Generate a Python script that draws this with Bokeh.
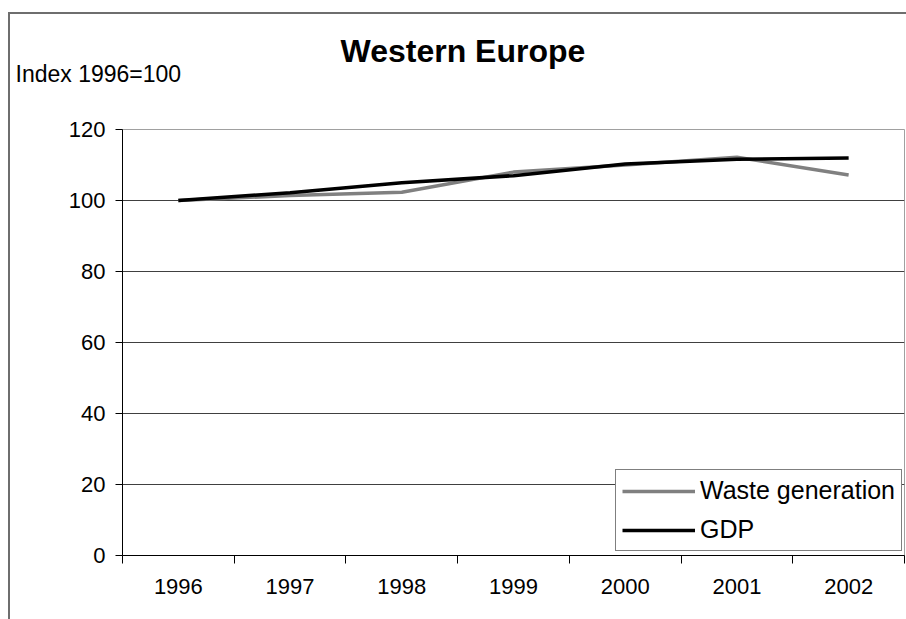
from bokeh.plotting import figure
from bokeh.models import (FixedTicker, Legend, LegendItem, Title, Range1d,
                          InlineStyleSheet)
from bokeh.embed import file_html
from bokeh.resources import INLINE

# ---- data ----
years = ["1996", "1997", "1998", "1999", "2000", "2001", "2002"]
waste = [100, 101.4, 102.3, 108.0, 110.0, 112.2, 107.2]
gdp = [100, 102.2, 105.0, 107.0, 110.3, 111.6, 112.0]
y_ticks = [0, 20, 40, 60, 80, 100, 120]

title_text = "Western Europe"
y_title = "Index 1996=100"

# ---- layout (canvas pixels) ----
FR_L, FR_R, FR_T, FR_B = 122, 904, 129, 555
W, H = 906, 619
n = len(years)

xs = [i + 0.5 for i in range(n)]

p = figure(width=W, height=H, output_backend="svg", toolbar_location=None,
           x_range=Range1d(0, n), y_range=Range1d(y_ticks[0], y_ticks[-1]),
           min_border_left=FR_L, min_border_right=W - FR_R,
           min_border_top=FR_T, min_border_bottom=H - FR_B,
           background_fill_color="white", border_fill_color="white")

p.outline_line_color = "#a0a0a0"

r_waste = p.line(xs, waste, line_color="#808080", line_width=3.5)
r_gdp = p.line(xs, gdp, line_color="black", line_width=3.5)

FONT = "Liberation Sans"

# grid
p.xgrid.visible = False
p.ygrid.ticker = FixedTicker(ticks=y_ticks)
p.ygrid.grid_line_color = "#404040"
p.ygrid.grid_line_width = 1

# y axis
ya = p.yaxis[0]
ya.ticker = FixedTicker(ticks=y_ticks)
ya.axis_line_color = "black"
ya.major_tick_line_color = "black"
ya.major_tick_out = 7
ya.major_tick_in = 0
ya.minor_tick_line_color = None
ya.major_label_text_font = FONT
ya.major_label_text_font_size = "22px"
ya.major_label_text_color = "black"
ya.major_label_standoff = 10

# x axis
xa = p.xaxis[0]
xa.ticker = FixedTicker(ticks=xs, minor_ticks=list(range(n + 1)))
xa.major_label_overrides = {x: y for x, y in zip(xs, years)}
xa.axis_line_color = "black"
xa.major_tick_line_color = None
xa.major_tick_out = 8
xa.major_tick_in = 0
xa.minor_tick_line_color = "black"
xa.minor_tick_out = 8
xa.minor_tick_in = 0
xa.major_label_text_font = FONT
xa.major_label_text_font_size = "22px"
xa.major_label_text_color = "black"
xa.major_label_standoff = 15

# legend
legend = Legend(items=[LegendItem(label="Waste generation", renderers=[r_waste]),
                       LegendItem(label="GDP", renderers=[r_gdp])],
                location=(615 - FR_L, FR_B - 551),
                border_line_color="black", border_line_width=1,
                background_fill_color="white", background_fill_alpha=1,
                glyph_width=73, glyph_height=26, label_height=26,
                label_standoff=5, spacing=10, padding=6, margin=0,
                label_text_font=FONT, label_text_font_size="25px",
                label_text_color="black")
p.add_layout(legend)

# titles in the top panel: first one added sits nearest the frame
p.add_layout(Title(text=y_title, align="left", offset=15 - FR_L, standoff=86,
                   text_font=FONT, text_font_size="23px", text_font_style="normal",
                   text_color="black"), "above")
p.add_layout(Title(text=title_text, align="left", offset=340 - FR_L, standoff=-106,
                   text_font=FONT, text_font_size="32px", text_font_style="bold",
                   text_color="black"), "above")

# outer chart border (left and top edges visible)
p.stylesheets = [InlineStyleSheet(css="""
:host { position: relative; }
:host::after { content: ''; position: absolute; left: 8px; top: 12px; right: 0; bottom: 0;
  border-left: 2px solid #6e6e6e; border-top: 2px solid #6e6e6e;
  pointer-events: none; z-index: 10; }
""")]

open("out.html", "w").write(file_html(p, INLINE))
